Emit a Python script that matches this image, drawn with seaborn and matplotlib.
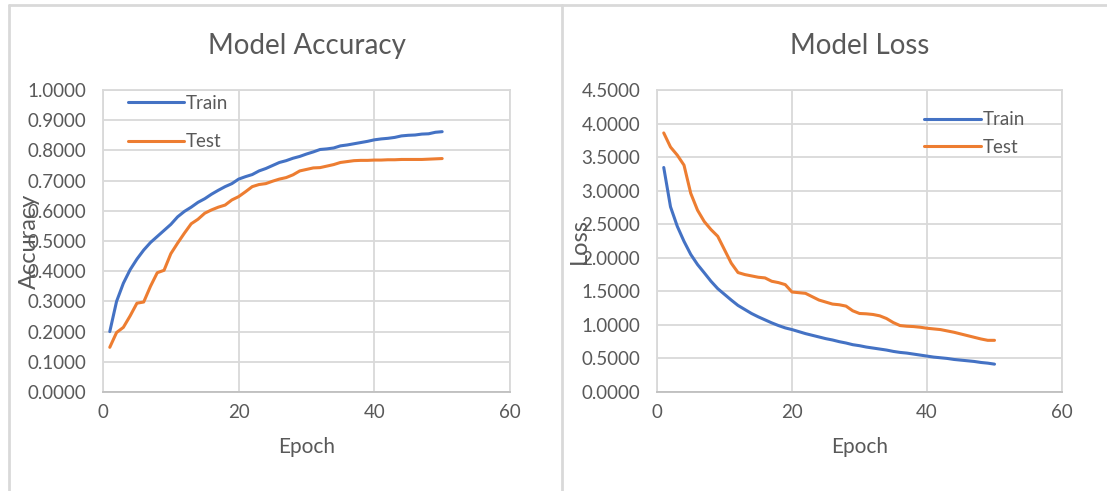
import numpy as np
import pandas as pd
import seaborn as sns
import matplotlib
matplotlib.use("Agg")
import matplotlib.pyplot as plt
from matplotlib.lines import Line2D

epochs = list(range(1, 51))

acc_train = [0.200, 0.300, 0.360, 0.405, 0.440, 0.470, 0.495, 0.515, 0.535, 0.555,
             0.580, 0.598, 0.612, 0.628, 0.640, 0.655, 0.668, 0.680, 0.690, 0.705,
             0.713, 0.720, 0.732, 0.740, 0.750, 0.760, 0.766, 0.774, 0.780, 0.788,
             0.795, 0.803, 0.805, 0.808, 0.815, 0.818, 0.822, 0.826, 0.830, 0.835,
             0.838, 0.840, 0.843, 0.848, 0.850, 0.851, 0.854, 0.855, 0.860, 0.862]

acc_test = [0.148, 0.197, 0.214, 0.252, 0.294, 0.298, 0.350, 0.395, 0.403, 0.458,
            0.493, 0.526, 0.557, 0.572, 0.592, 0.603, 0.612, 0.619, 0.636, 0.647,
            0.663, 0.680, 0.687, 0.690, 0.698, 0.705, 0.710, 0.719, 0.732, 0.737,
            0.742, 0.743, 0.748, 0.753, 0.760, 0.763, 0.766, 0.767, 0.767, 0.768,
            0.768, 0.769, 0.769, 0.770, 0.770, 0.770, 0.770, 0.771, 0.772, 0.773]

loss_train = [3.345, 2.760, 2.470, 2.245, 2.050, 1.900, 1.776, 1.650, 1.540, 1.455,
              1.370, 1.290, 1.230, 1.170, 1.120, 1.075, 1.030, 0.990, 0.955, 0.930,
              0.900, 0.870, 0.845, 0.820, 0.795, 0.775, 0.750, 0.730, 0.705, 0.690,
              0.670, 0.655, 0.640, 0.625, 0.605, 0.590, 0.580, 0.565, 0.550, 0.535,
              0.520, 0.510, 0.500, 0.485, 0.475, 0.465, 0.455, 0.440, 0.430, 0.415]

loss_test = [3.860, 3.650, 3.530, 3.380, 2.960, 2.710, 2.540, 2.420, 2.320, 2.120,
             1.920, 1.780, 1.750, 1.730, 1.710, 1.700, 1.650, 1.630, 1.600, 1.490,
             1.480, 1.470, 1.420, 1.370, 1.340, 1.310, 1.300, 1.280, 1.210, 1.170,
             1.165, 1.155, 1.135, 1.095, 1.035, 0.990, 0.980, 0.975, 0.965, 0.950,
             0.940, 0.930, 0.910, 0.890, 0.865, 0.840, 0.815, 0.790, 0.770, 0.770]

BLUE = "#4472C4"
ORANGE = "#ED7D31"
GRID = "#D9D9D9"
TXT = "#595959"

sns.set_theme(style="white")
plt.rcParams["font.family"] = ["Lato", "DejaVu Sans"]

fig = plt.figure(figsize=(11.07, 4.91), dpi=100)
W, H = 1107, 491

# panel borders like the excel chart frames
for xs, ys in [([9, 1107], [5, 5]), ([9, 9], [5, 491]), ([562, 562], [5, 491])]:
    fig.add_artist(Line2D([x / W for x in xs], [1 - y / H for y in ys],
                          color=GRID, lw=2, transform=fig.transFigure))


def make_panel(left_px, right_px, train, test, title, ylabel, ymax, ystep,
               legend_loc, legend_anchor, spacing, label_off):
    ax = fig.add_axes([left_px / W, 1 - 392 / H, (right_px - left_px) / W, (392 - 90) / H])
    df = pd.DataFrame({"Epoch": epochs * 2,
                       "val": train + test,
                       "set": ["Train"] * len(epochs) + ["Test"] * len(epochs)})
    sns.lineplot(data=df, x="Epoch", y="val", hue="set", palette=[BLUE, ORANGE],
                 linewidth=2.2, ax=ax, legend=False)
    ax.set_xlim(0, 60)
    ax.set_ylim(0, ymax)
    ax.set_xticks([0, 20, 40, 60])
    ax.set_yticks(np.arange(0, ymax + 1e-9, ystep))
    ax.yaxis.set_major_formatter(matplotlib.ticker.FormatStrFormatter("%.4f"))
    ax.grid(True, color=GRID, lw=1.3)
    ax.set_axisbelow(True)
    for s in ax.spines.values():
        s.set_color(GRID)
        s.set_linewidth(1.3)
    ax.spines["bottom"].set_color("#BFBFBF")
    ax.tick_params(axis="both", colors=TXT, labelsize=13.5, length=0, pad=12)
    ax.tick_params(axis="x", pad=9)
    ax.set_title(title, fontsize=20, color=TXT, pad=26)
    ax.set_xlabel("Epoch", fontsize=15, color=TXT, labelpad=11)
    ax.set_ylabel(ylabel, fontsize=17, color=TXT)
    ax.yaxis.set_label_coords(-label_off / (right_px - left_px), 0.5)
    handles = [Line2D([], [], color=BLUE, lw=2.2), Line2D([], [], color=ORANGE, lw=2.2)]
    ax.legend(handles, ["Train", "Test"], loc=legend_loc, bbox_to_anchor=legend_anchor,
              frameon=False, fontsize=13.5, labelcolor=TXT, handlelength=3.0,
              handletextpad=0.1, labelspacing=spacing)
    return ax


make_panel(103, 510, acc_train, acc_test, "Model Accuracy", "Accuracy", 1.0, 0.1,
           "upper left", (0.02, 1.04), 1.15, 63)
make_panel(657, 1062, loss_train, loss_test, "Model Loss", "Loss", 4.5, 0.5,
           "upper right", (0.95, 0.985), 0.55, 67)

fig.savefig("out.png", dpi=100)
